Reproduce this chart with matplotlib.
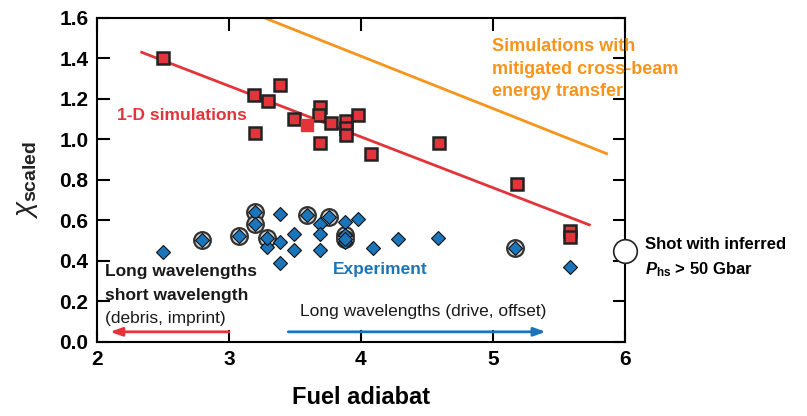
import matplotlib
matplotlib.use("Agg")
import matplotlib.pyplot as plt

plt.rcParams['font.family'] = ['Liberation Sans', 'DejaVu Sans']
plt.rcParams['mathtext.fontset'] = 'custom'
plt.rcParams['mathtext.rm'] = 'Liberation Sans'
plt.rcParams['mathtext.it'] = 'Liberation Sans:italic'
plt.rcParams['mathtext.bf'] = 'Liberation Sans:bold'
plt.rcParams['mathtext.sf'] = 'Liberation Sans:italic:bold'

RED = '#e3343c'
ORANGE = '#f7941d'
BLUE = '#1b75bb'

# 1-D simulation results (squares)
sim_adiabat = [2.50, 3.19, 3.30, 3.39, 3.20, 3.49, 3.69, 3.68, 3.77, 3.89,
               3.89, 3.89, 3.98, 3.69, 4.08, 4.59, 5.18, 5.58, 5.58]
sim_chi = [1.40, 1.22, 1.19, 1.27, 1.03, 1.10, 1.16, 1.12, 1.08, 1.09,
           1.055, 1.02, 1.12, 0.98, 0.93, 0.98, 0.78, 0.55, 0.52]
sim_plain_adiabat = [3.59]
sim_plain_chi = [1.07]

# Experimental shots (diamonds)
exp_adiabat = [2.50, 3.29, 3.39, 3.39, 3.39, 3.49, 3.49, 3.69, 3.69, 3.69,
               3.88, 3.88, 3.98, 4.09, 4.28, 4.58, 5.58]
exp_chi = [0.445, 0.47, 0.63, 0.495, 0.39, 0.535, 0.455, 0.58, 0.535, 0.455,
           0.59, 0.495, 0.605, 0.465, 0.51, 0.515, 0.37]

# Shots with inferred hot-spot pressure > 50 Gbar (circled diamonds)
hp_adiabat = [2.80, 3.08, 3.20, 3.20, 3.29, 3.59, 3.76, 3.88, 3.88, 5.17]
hp_chi = [0.505, 0.525, 0.64, 0.58, 0.515, 0.625, 0.615, 0.53, 0.51, 0.465]

# Trend lines
sim_fit_adiabat = [2.34, 5.73]
sim_fit_chi = [1.43, 0.578]
cbet_fit_adiabat = [3.27, 5.86]
cbet_fit_chi = [1.60, 0.93]

x_ticks = [2, 3, 4, 5, 6]
y_ticks = [0.0, 0.2, 0.4, 0.6, 0.8, 1.0, 1.2, 1.4, 1.6]

fig = plt.figure(figsize=(8.07, 4.16), dpi=100)
ax = fig.add_axes([0.120, 0.178, 0.6545, 0.779])

ax.plot(cbet_fit_adiabat, cbet_fit_chi, color=ORANGE, lw=2, zorder=2)
ax.plot(sim_fit_adiabat, sim_fit_chi, color=RED, lw=2, zorder=2)

ax.plot(sim_adiabat, sim_chi, 's', ms=8.5, mfc=RED, mec='#222222', mew=1.8,
        ls='none', zorder=4)
ax.plot(sim_plain_adiabat, sim_plain_chi, 's', ms=8.5, mfc=RED, mec=RED,
        ls='none', zorder=4)

ax.plot(hp_adiabat, hp_chi, 'o', ms=12, mfc='#d9d9d9', mec='#333333', mew=1.6,
        ls='none', zorder=3)
ax.plot(exp_adiabat + hp_adiabat, exp_chi + hp_chi, 'D', ms=7.5, mfc=BLUE,
        mec='#111111', mew=0.8, ls='none', zorder=5)

# open circle on the right spine, keyed to the note beside it
ax.plot([6.0], [0.45], 'o', ms=17, mfc='white', mec='#222222', mew=1.2,
        clip_on=False, zorder=6)

ax.set_xlim(2, 6)
ax.set_ylim(0, 1.6)
ax.set_xticks(x_ticks)
ax.set_yticks(y_ticks)
ax.set_yticklabels([f'{v:.1f}' for v in y_ticks])
ax.tick_params(direction='in', length=9, width=1.5, top=True, right=True,
               labelsize=15, pad=6)
for lab in ax.get_xticklabels() + ax.get_yticklabels():
    lab.set_fontweight('bold')
for sp in ax.spines.values():
    sp.set_linewidth(1.5)

ax.set_xlabel('Fuel adiabat', fontsize=17, fontweight='bold', labelpad=12)
ax.set_ylabel(r'$\chi_{\mathbf{scaled}}$', fontsize=20, labelpad=14,
              color='#222222')

ax.text(2.15, 1.12, '1-D simulations', color=RED, fontsize=12.5,
        fontweight='bold', va='center', ha='left')
ax.text(3.79, 0.356, 'Experiment', color=BLUE, fontsize=12.5,
        fontweight='bold', va='center', ha='left')
ax.text(4.99, 1.50, 'Simulations with\nmitigated cross-beam\nenergy transfer',
        color=ORANGE, fontsize=13, fontweight='bold', va='top', ha='left',
        linespacing=1.42)

ax.text(2.06, 0.346, 'Long wavelengths', fontsize=12.5, fontweight='bold',
        va='center', ha='left', color='#1a1a1a')
ax.text(2.06, 0.227, 'short wavelength', fontsize=12.5, fontweight='bold',
        va='center', ha='left', color='#1a1a1a')
ax.text(2.06, 0.114, '(debris, imprint)', fontsize=12.5,
        va='center', ha='left', color='#1a1a1a')
ax.text(3.535, 0.148, 'Long wavelengths (drive, offset)', fontsize=12.5,
        va='center', ha='left', color='#1a1a1a')

ax.annotate('', xy=(2.1, 0.05), xytext=(3.0, 0.05),
            arrowprops=dict(arrowstyle='-|>,head_length=0.7,head_width=0.25',
                            color=RED, lw=2, shrinkA=0, shrinkB=0))
ax.annotate('', xy=(5.4, 0.05), xytext=(3.45, 0.05),
            arrowprops=dict(arrowstyle='-|>,head_length=0.7,head_width=0.25',
                            color=BLUE, lw=2, shrinkA=0, shrinkB=0))

ax.text(6.15, 0.479, 'Shot with inferred', fontsize=12, fontweight='bold',
        va='center', ha='left', clip_on=False)
ax.text(6.15, 0.356, r'$\mathsf{P}_{\mathbf{hs}}$ > 50 Gbar', fontsize=12,
        fontweight='bold', va='center', ha='left', clip_on=False)

fig.savefig('out.png', dpi=100)
